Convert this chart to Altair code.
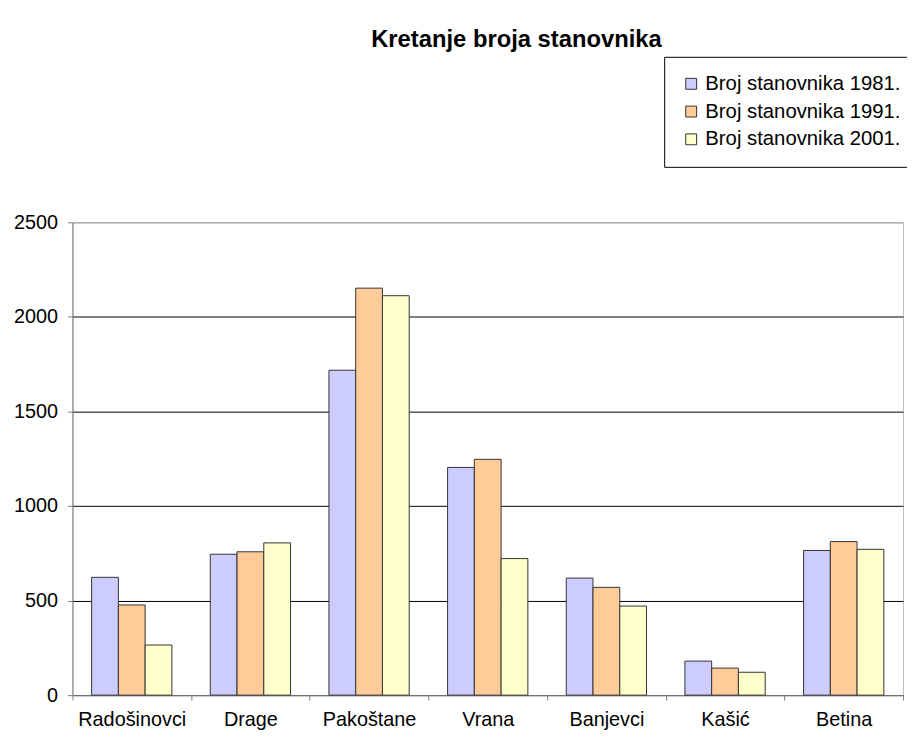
import altair as alt
import pandas as pd

places = ["Radošinovci", "Drage", "Pakoštane", "Vrana", "Banjevci", "Kašić", "Betina"]
series = ["Broj stanovnika 1981.", "Broj stanovnika 1991.", "Broj stanovnika 2001."]
pop_1981 = [623, 745, 1718, 1204, 619, 180, 765]
pop_1991 = [477, 758, 2152, 1247, 570, 143, 812]
pop_2001 = [265, 805, 2112, 722, 471, 121, 771]
colors = ["#CCCCFF", "#FFCC99", "#FFFFCC"]
y_ticks = [0, 500, 1000, 1500, 2000, 2500]

rows = []
for s, vals in zip(series, [pop_1981, pop_1991, pop_2001]):
    for p, v in zip(places, vals):
        rows.append({"place": p, "series": s, "value": v})
df = pd.DataFrame(rows)

FONT = "Liberation Sans"

chart = alt.Chart(df).mark_bar(stroke="#333333", strokeWidth=1).encode(
    x=alt.X(
        "place:N",
        sort=places,
        scale=alt.Scale(paddingInner=0, paddingOuter=0),
        axis=alt.Axis(
            title=None,
            labelAngle=0,
            tickBand="extent",
            labelFontSize=20,
            labelColor="black",
            labelPadding=10,
            tickSize=5,
            tickColor="#808080",
            domainColor="#808080",
        ),
    ),
    xOffset=alt.XOffset(
        "series:N", sort=series, scale=alt.Scale(paddingInner=0, paddingOuter=0.717)
    ),
    y=alt.Y(
        "value:Q",
        scale=alt.Scale(domain=[0, 2500], nice=False),
        axis=alt.Axis(
            title=None,
            values=y_ticks,
            format="d",
            labelFontSize=20,
            labelColor="black",
            labelPadding=10,
            tickSize=5,
            tickColor="#808080",
            domainColor="#808080",
            grid=True,
            gridColor={
                "condition": {"test": "datum.value == 2500", "value": "#999999"},
                "value": "#000000",
            },
            gridWidth=1,
        ),
    ),
    color=alt.Color(
        "series:N",
        sort=series,
        scale=alt.Scale(domain=series, range=colors),
        legend=alt.Legend(
            title=None,
            orient="none",
            legendX=597,
            legendY=-167,
            strokeColor="black",
            fillColor="white",
            padding=17,
            symbolType="square",
            symbolSize=121,
            symbolStrokeColor="#333333",
            symbolStrokeWidth=1,
            symbolOpacity=1,
            labelFontSize=20.5,
            labelColor="black",
            labelOffset=4,
            rowPadding=7,
            labelLimit=400,
        ),
    ),
).properties(
    width=838,
    height=477,
    title=alt.TitleParams(
        "Kretanje broja stanovnika",
        fontSize=24,
        fontWeight="bold",
        color="black",
        anchor="middle",
        dx=29,
        dy=0,
    ),
    autosize=alt.AutoSizeParams(type="none"),
    padding={"left": 65, "top": 213, "right": 4, "bottom": 40},
).configure(
    font=FONT,
).configure_view(
    stroke="#c0c0c0",
)

chart.save("out.html", embed_options={"renderer": "svg", "actions": False})
